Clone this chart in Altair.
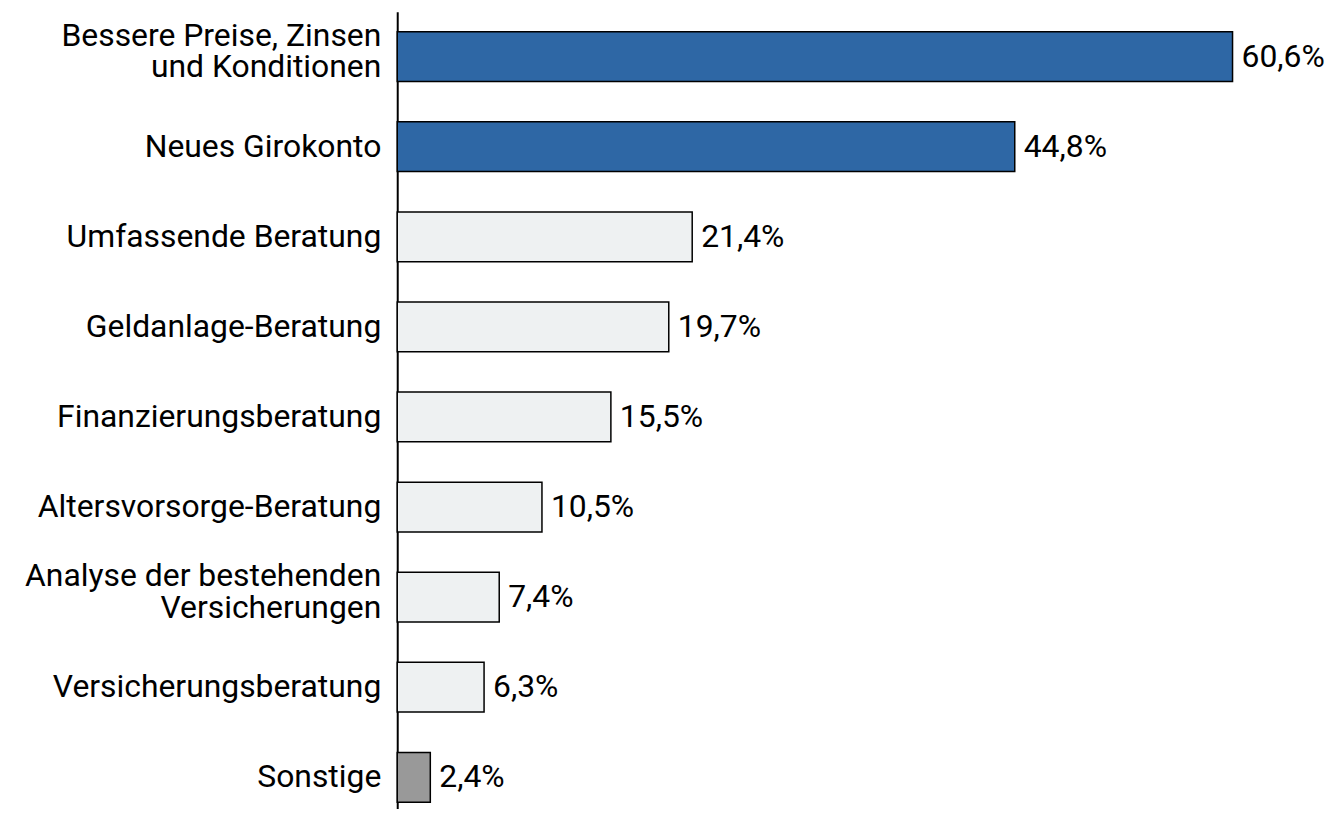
import altair as alt
import pandas as pd

categories = [
    "Bessere Preise, Zinsen\u00a0|und Konditionen",
    "Neues Girokonto",
    "Umfassende Beratung",
    "Geldanlage-Beratung",
    "Finanzierungsberatung",
    "Altersvorsorge-Beratung",
    "Analyse der bestehenden\u00a0|Versicherungen",
    "Versicherungsberatung",
    "Sonstige",
]
values = [60.6, 44.8, 21.4, 19.7, 15.5, 10.5, 7.4, 6.3, 2.4]
value_labels = ["60,6%", "44,8%", "21,4%", "19,7%", "15,5%", "10,5%", "7,4%", "6,3%", "2,4%"]
groups = ["top", "top", "mid", "mid", "mid", "mid", "mid", "mid", "other"]

df = pd.DataFrame({"cat": categories, "value": values, "label": value_labels, "group": groups})

FONT = "Roboto"
FS = 32
y_enc = alt.Y(
    "cat:N",
    sort=None,
    scale=alt.Scale(paddingInner=0.4475, paddingOuter=0.221, range=[0, 814]),
    axis=alt.Axis(labels=False, ticks=False, domain=True, domainColor="black",
                  domainWidth=2, title=None, grid=False),
)
x_enc = alt.X("value:Q", scale=alt.Scale(domain=[0, 62.83], nice=False), axis=None)

base = alt.Chart(df)

bars = base.mark_bar(stroke="black", strokeWidth=1.5).encode(
    x=x_enc,
    y=y_enc,
    color=alt.Color(
        "group:N",
        scale=alt.Scale(domain=["top", "mid", "other"], range=["#2E67A5", "#EEF1F2", "#999999"]),
        legend=None,
    ),
)

values_text = base.mark_text(align="left", baseline="middle", dx=9, fontSize=FS, font=FONT, color="black").encode(
    x=x_enc, y=y_enc, text="label:N"
)

cat_single = base.transform_filter("indexof(datum.cat, '|') < 0").mark_text(
    align="right", baseline="middle", dx=-16, fontSize=FS, font=FONT, color="black",
).encode(x=alt.value(0), y=y_enc, text="cat:N")

cat_multi = base.transform_filter("indexof(datum.cat, '|') >= 0").mark_text(
    align="right", baseline="middle", dx=-16, dy=-21, fontSize=FS, font=FONT, color="black",
    lineBreak="|", lineHeight=32,
).encode(x=alt.value(0), y=y_enc, text="cat:N")

chart = alt.layer(bars, values_text, cat_single, cat_multi).properties(
    width=870,
    height=799,
    autosize=alt.AutoSizeParams(type="none"),
    padding={"left": 391, "top": 2, "right": 62, "bottom": 0},
).configure_view(stroke=None)

chart.save("out.html", embed_options={"renderer": "svg", "actions": False})
